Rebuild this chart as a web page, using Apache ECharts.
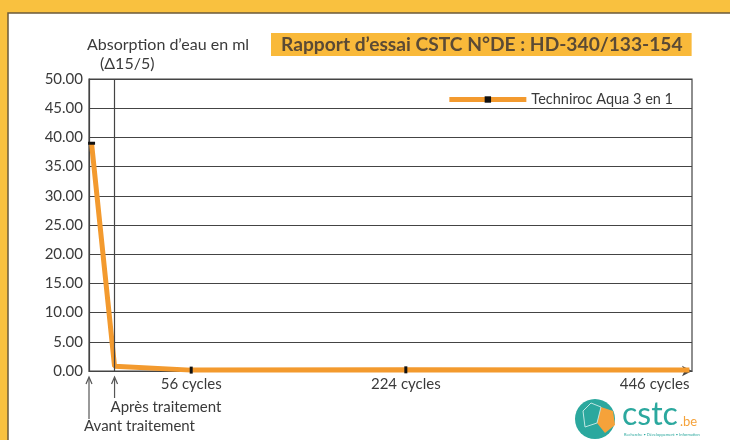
<!DOCTYPE html>
<html>
<head>
<meta charset="utf-8">
<script src="https://cdn.jsdelivr.net/npm/echarts@6/dist/echarts.min.js"></script>
<style>
  html, body { margin: 0; padding: 0; background: #fff; }
  #chart { width: 730px; height: 440px; }
</style>
</head>
<body>
<div id="chart"></div>
<script>
// points: Avant traitement, Après traitement, 56, 224, 446 cycles
var cycles = [-22, -4, 56, 224, 446];
var absorption = [39.0, 0.8, 0.15, 0.2, 0.15];
var cycleLabels = [56, 224, 446];
var yTicks = [0, 5, 10, 15, 20, 25, 30, 35, 40, 45, 50];
var seriesName = 'Techniroc Aqua 3 en 1';

var font = 'Lato';
var orange = '#F39A2E';
var ink = '#3a3a3a';

var chart = echarts.init(document.getElementById('chart'));

// petits traits noirs seulement sur certains points
var marks = [[7, 3], null, [3, 7], [3, 7], null];
var data = cycles.map(function (c, i) {
  var item = { value: [c, absorption[i]] };
  if (marks[i]) item.symbolSize = marks[i];
  else item.symbol = 'none';
  return item;
});

chart.setOption({
  backgroundColor: '#F9C13F',
  textStyle: { fontFamily: font },
  animation: false,
  title: {
    text: 'Rapport d’essai CSTC N°DE : HD-340/133-154',
    left: 271,
    top: 33,
    padding: [2, 9, 2, 10],
    backgroundColor: '#F9B93A',
    textStyle: { fontFamily: font, fontSize: 19.2, fontWeight: 'bold', color: '#5b4a35' }
  },
  legend: {
    right: 52,
    top: 87,
    itemWidth: 77,
    itemHeight: 8,
    itemGap: 8,
    symbolKeepAspect: true,
    lineStyle: { width: 5 },
    textStyle: { fontFamily: font, fontSize: 14.5, color: ink },
    data: [seriesName]
  },
  grid: {
    left: 89, right: 38, top: 79, bottom: 69,
    show: true, borderColor: '#444', borderWidth: 1.2
  },
  xAxis: {
    type: 'value',
    min: -24,
    max: 448,
    splitLine: { show: false },
    axisTick: { show: false },
    axisLine: {
      lineStyle: { color: '#444', width: 1.2 },
      symbol: ['none', 'arrow'],
      symbolSize: [8, 10]
    },
    axisLabel: {
      customValues: cycleLabels,
      alignMaxLabel: 'right',
      margin: 6,
      fontSize: 15,
      color: ink,
      formatter: function (v) { return v + ' cycles'; }
    }
  },
  yAxis: {
    type: 'value',
    min: yTicks[0],
    max: yTicks[yTicks.length - 1],
    interval: 5,
    axisLine: { show: true, onZero: false, lineStyle: { color: '#444', width: 1.2 } },
    axisTick: { show: false },
    splitLine: { lineStyle: { color: '#444', width: 1.2 } },
    axisLabel: {
      margin: 6,
      fontSize: 15,
      color: ink,
      formatter: function (v) { return v.toFixed(2); }
    }
  },
  series: [{
    name: seriesName,
    type: 'line',
    data: data,
    symbol: 'path://M0,0h3v10h-3z',
    symbolKeepAspect: false,
    symbolSize: [3, 7],
    itemStyle: { color: '#111' },
    lineStyle: { color: orange, width: 5 },
    z: 3,
    markLine: {
      silent: true,
      symbol: 'none',
      label: { show: false },
      lineStyle: { color: '#444', width: 1.2, type: 'solid' },
      data: [{ xAxis: cycles[1] }]
    }
  }]
});

// cadre blanc, titre d'axe, flèches sous l'axe et logo
var x0 = chart.convertToPixel({ xAxisIndex: 0 }, -24);
var x1 = chart.convertToPixel({ xAxisIndex: 0 }, cycles[1]);
var y0 = chart.convertToPixel({ yAxisIndex: 0 }, 0);
var yTop = chart.convertToPixel({ yAxisIndex: 0 }, 50);

function upArrow(x, yA, yB) {
  return {
    type: 'group',
    children: [
      { type: 'line', shape: { x1: x, y1: yA + 2, x2: x, y2: yB }, style: { stroke: '#555', lineWidth: 1.2 } },
      { type: 'polyline', shape: { points: [[x - 3, yA + 7], [x, yA], [x + 3, yA + 7]] }, style: { stroke: '#555', fill: null, lineWidth: 1.2 } }
    ]
  };
}

chart.setOption({
  graphic: [
    {
      type: 'rect', z: -10, silent: true,
      shape: { x: 8, y: 13, width: 760, height: 460 },
      style: { fill: '#fff', stroke: '#6b5a3a', lineWidth: 1.5 }
    },
    { type: 'text', x: x0 - 2, y: yTop - 42, style: { text: 'Absorption d’eau en ml', font: '16px ' + font, fill: ink } },
    { type: 'text', x: x0 + 11, y: yTop - 23, style: { text: '(Δ15/5)', font: '16px ' + font, fill: ink } },
    upArrow(x0, y0 + 6, y0 + 48),
    upArrow(x1, y0 + 6, y0 + 27),
    { type: 'text', x: x1 - 4, y: y0 + 29, style: { text: 'Après traitement', font: '15px ' + font, fill: ink } },
    { type: 'text', x: x0 - 5, y: y0 + 48, style: { text: 'Avant traitement', font: '15px ' + font, fill: ink } },
    {
      type: 'group', x: 577, y: 397,
      children: [
        { type: 'circle', shape: { cx: 18, cy: 22, r: 20 }, style: { fill: '#2BA89E' } },
        { type: 'polygon', shape: { points: [[24, 10], [36, 14], [38, 28], [28, 36], [20, 26]] }, style: { fill: '#F5A23A' } },
        { type: 'polyline', shape: { points: [[6, 14], [14, 6], [24, 10], [20, 26], [8, 30], [6, 14]] }, style: { stroke: '#bfe6e2', fill: null, lineWidth: 1 } },
        { type: 'text', x: 45, y: 2, style: { text: 'cstc', font: '32px ' + font, fill: '#2BA89E' } },
        { type: 'text', x: 103, y: 18, style: { text: '.be', font: '13px ' + font, fill: '#F5A23A' } },
        { type: 'text', x: 47, y: 36, style: { text: 'Recherche • Développement • Information', font: '4px ' + font, fill: '#2BA89E' } }
      ]
    }
  ]
});
</script>
</body>
</html>
